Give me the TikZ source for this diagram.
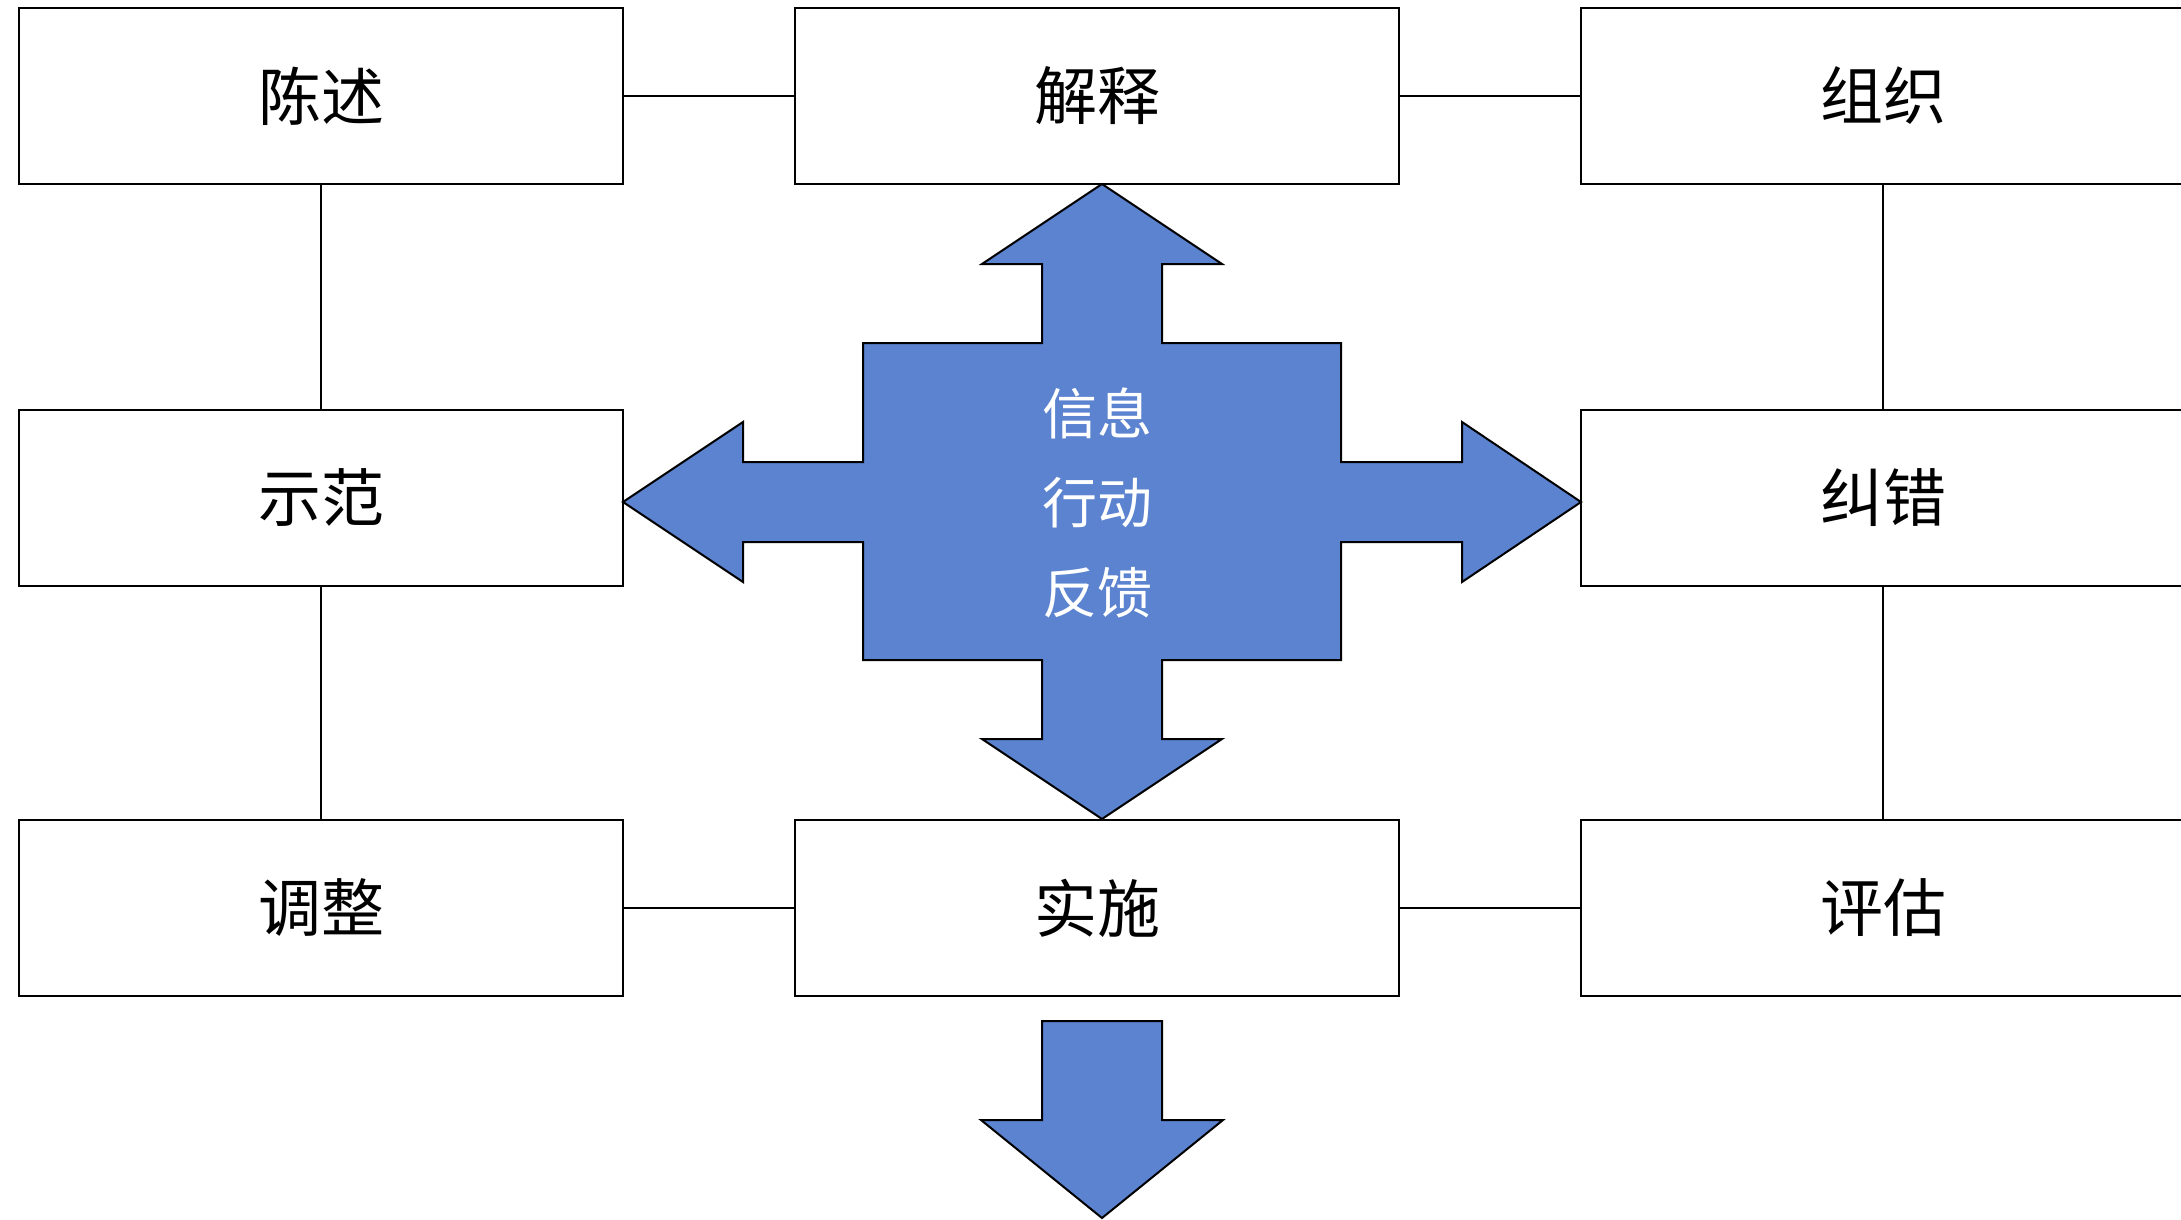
\documentclass[tikz,border=0pt]{standalone}
\usepackage{fontspec}
\newfontfamily\cjk{Noto Sans CJK SC}
\definecolor{crossblue}{RGB}{91,131,208}
\begin{document}
\begin{tikzpicture}[x=1pt,y=-1pt,
  box/.style={draw=black, line width=2pt, fill=white, minimum width=604pt, minimum height=176pt, inner sep=0pt, font=\cjk\fontsize{63}{76}\selectfont},
  link/.style={draw=black, line width=1.5pt},
  bigarrow/.style={fill=crossblue, draw=black, line width=2pt, line join=miter},
  inner/.style={text=white, inner sep=0pt, font=\cjk\fontsize{55}{66}\selectfont}]
\useasboundingbox (0,0) rectangle (2181,1219);
% boxes
\node[box] (chenshu) at (321,96) {陈述};
\node[box] (jieshi) at (1097,96) {解释};
\node[box] (zuzhi) at (1883,96) {组织};
\node[box] (shifan) at (321,498) {示范};
\node[box] (jiucuo) at (1883,498) {纠错};
\node[box] (tiaozheng) at (321,908) {调整};
\node[box] (shishi) at (1097,908) {实施};
\node[box] (pinggu) at (1883,908) {评估};
% connectors
\draw[link] (chenshu.east) -- (jieshi.west);
\draw[link] (jieshi.east) -- (zuzhi.west);
\draw[link] (chenshu.south) -- (shifan.north);
\draw[link] (shifan.south) -- (tiaozheng.north);
\draw[link] (zuzhi.south) -- (jiucuo.north);
\draw[link] (jiucuo.south) -- (pinggu.north);
\draw[link] (tiaozheng.east) -- (shishi.west);
\draw[link] (shishi.east) -- (pinggu.west);
% central cross arrow
\draw[bigarrow] (1102,184) -- (1222,264) -- (1162,264) -- (1162,343) -- (1341,343) -- (1341,462)
  -- (1462,462) -- (1462,422) -- (1581,502) -- (1462,582) -- (1462,542) -- (1341,542)
  -- (1341,660) -- (1162,660) -- (1162,739) -- (1222,739) -- (1102,819) -- (982,739)
  -- (1042,739) -- (1042,660) -- (863,660) -- (863,542) -- (743,542) -- (743,582)
  -- (623,502) -- (743,422) -- (743,462) -- (863,462) -- (863,343) -- (1042,343)
  -- (1042,264) -- (982,264) -- cycle;
\node[inner] (xinxi) at (1097,413) {信息};
\node[inner] (xingdong) at (1097,503) {行动};
\node[inner] (fankui) at (1097,593) {反馈};
% bottom arrow
\draw[bigarrow] (1042,1021) -- (1162,1021) -- (1162,1120) -- (1223,1120) -- (1102,1218)
  -- (981,1120) -- (1042,1120) -- cycle;
\end{tikzpicture}
\end{document}
